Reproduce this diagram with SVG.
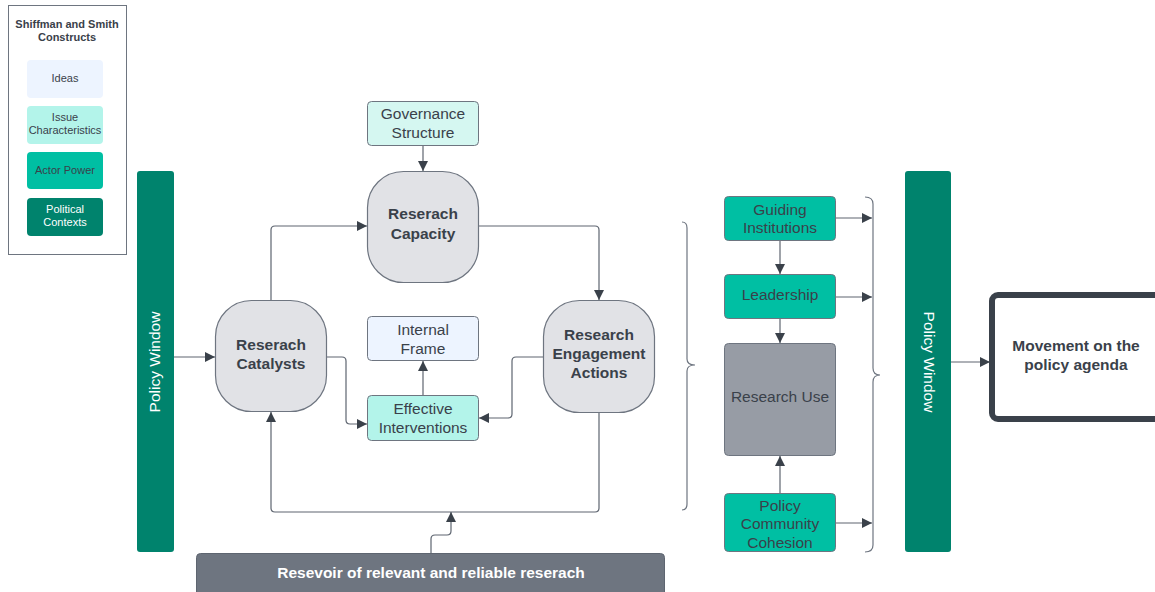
<svg xmlns="http://www.w3.org/2000/svg" width="1155" height="592" viewBox="0 0 1155 592">
<defs>
<marker id="ah" viewBox="0 0 10 10" refX="10" refY="5" markerWidth="10" markerHeight="10" markerUnits="userSpaceOnUse" orient="auto">
<path d="M0,0 L10,5 L0,10 z" fill="#3a414a"/>
</marker>
<style>
.t{font-family:"Liberation Sans",Arial,sans-serif;font-size:15.5px;fill:#3a414a;text-anchor:middle}
.b{font-weight:bold}
.s{font-size:11px}
.w{fill:#ffffff}
.ln{fill:none;stroke:#5e6570;stroke-width:1.2}
.gray{fill:#e1e2e6;stroke:#6e7580;stroke-width:1.2}
.bx{stroke:#6e7580;stroke-width:1}
.ideas{fill:#edf4ff}
.issue{fill:#b3f4ea}
.gov{fill:#d5f7f1}
.actor{fill:#00bfa3}
.pol{fill:#00836d}
.br{fill:none;stroke:#6e7580;stroke-width:1.2}
</style>
</defs>
<rect width="1155" height="592" fill="#ffffff"/>

<g id="legend">
<rect x="8.5" y="5.5" width="118" height="249" fill="#ffffff" stroke="#6e7580" stroke-width="1"/>
<text class="t b s" x="67" y="28">Shiffman and Smith</text>
<text class="t b s" x="67" y="41">Constructs</text>
<rect class="ideas" x="27" y="60" width="76" height="38" rx="4"/>
<text class="t s" x="65" y="82">Ideas</text>
<rect class="issue" x="27" y="106" width="76" height="38" rx="4"/>
<text class="t s" x="65" y="121">Issue</text>
<text class="t s" x="65" y="134">Characteristics</text>
<rect class="actor" x="27" y="152" width="76" height="37" rx="4"/>
<text class="t s" x="65" y="174">Actor Power</text>
<rect class="pol" x="27" y="198" width="76" height="38" rx="4"/>
<text class="t s w" x="65" y="213">Political</text>
<text class="t s w" x="65" y="226">Contexts</text>
</g>

<g id="connectors">
<path class="ln" d="M423,146 V171" marker-end="url(#ah)"/>
<path class="ln" d="M271,300 V230 Q271,226 275,226 H367" marker-end="url(#ah)"/>
<path class="ln" d="M479,226 H595 Q599,226 599,230 V300" marker-end="url(#ah)"/>
<path class="ln" d="M174,357 H215" marker-end="url(#ah)"/>
<path class="ln" d="M327,357 H342 Q346,357 346,361 V420 Q346,424 350,424 H367" marker-end="url(#ah)"/>
<path class="ln" d="M543,357 H516 Q512,357 512,361 V414 Q512,418 508,418 H479" marker-end="url(#ah)"/>
<path class="ln" d="M423,395 V361" marker-end="url(#ah)"/>
<path class="ln" d="M599,413 V508 Q599,512 595,512 H275 Q271,512 271,508 V412" marker-end="url(#ah)"/>
<path class="ln" d="M431,553 V539 Q431,535 435,535 H447 Q451,535 451,531 V512" marker-end="url(#ah)"/>
<path class="ln" d="M780,241 V274" marker-end="url(#ah)"/>
<path class="ln" d="M780,319 V343" marker-end="url(#ah)"/>
<path class="ln" d="M780,493 V456" marker-end="url(#ah)"/>
<path class="ln" d="M836,218 H872" marker-end="url(#ah)"/>
<path class="ln" d="M836,297 H872" marker-end="url(#ah)"/>
<path class="ln" d="M836,523 H872" marker-end="url(#ah)"/>
<path class="ln" d="M951,362 H990" marker-end="url(#ah)"/>
<path class="br" d="M682,222 Q687,222 687,228 V359 Q687,365 695,365 Q687,365 687,371 V504 Q687,510 682,510"/>
<path class="br" d="M865,197 Q873,197 873,204 V368 Q873,375 880,375 Q873,375 873,382 V545 Q873,552 865,552"/>
</g>

<g id="policy-window-left">
<rect class="pol" x="137" y="171" width="37" height="381" rx="3"/>
<text class="t w" transform="translate(160,362) rotate(-90)">Policy Window</text>
</g>

<g id="governance">
<rect class="gov bx" x="367.5" y="101.5" width="111" height="44" rx="4"/>
<text class="t" x="423" y="119">Governance</text>
<text class="t" x="423" y="138">Structure</text>
</g>

<g id="capacity">
<rect class="gray" x="367.5" y="171.5" width="111" height="111" rx="36"/>
<text class="t b" x="423" y="219">Reserach</text>
<text class="t b" x="423" y="239">Capacity</text>
</g>

<g id="catalysts">
<rect class="gray" x="215.5" y="300.5" width="111" height="111" rx="36"/>
<text class="t b" x="271" y="350">Reserach</text>
<text class="t b" x="271" y="369">Catalysts</text>
</g>

<g id="engagement">
<rect class="gray" x="543.5" y="300.5" width="111" height="112" rx="36"/>
<text class="t b" x="599" y="340">Research</text>
<text class="t b" x="599" y="359">Engagement</text>
<text class="t b" x="599" y="378">Actions</text>
</g>

<g id="internal-frame">
<rect class="ideas bx" x="367.5" y="316.5" width="111" height="44" rx="4"/>
<text class="t" x="423" y="335">Internal</text>
<text class="t" x="423" y="354">Frame</text>
</g>

<g id="effective">
<rect class="issue bx" x="367.5" y="395.5" width="111" height="45" rx="4"/>
<text class="t" x="423" y="414">Effective</text>
<text class="t" x="423" y="433">Interventions</text>
</g>

<g id="resevoir">
<rect x="196.5" y="553.5" width="468" height="45" rx="4" fill="#6e7580" stroke="#5e6570"/>
<text class="t b w" x="431" y="578">Resevoir of relevant and reliable reserach</text>
</g>

<g id="guiding">
<rect class="actor bx" x="724.5" y="196.5" width="111" height="44" rx="4"/>
<text class="t" x="780" y="215">Guiding</text>
<text class="t" x="780" y="233">Institutions</text>
</g>

<g id="leadership">
<rect class="actor bx" x="724.5" y="274.5" width="111" height="44" rx="4"/>
<text class="t" x="780" y="300">Leadership</text>
</g>

<g id="research-use">
<rect x="724.5" y="343.5" width="111" height="112" rx="4" fill="#979ca5" stroke="#6e7580"/>
<text class="t" x="780" y="402">Research Use</text>
</g>

<g id="cohesion">
<rect class="actor bx" x="724.5" y="493.5" width="111" height="58" rx="4"/>
<text class="t" x="780" y="511">Policy</text>
<text class="t" x="780" y="529">Community</text>
<text class="t" x="780" y="548">Cohesion</text>
</g>

<g id="policy-window-right">
<rect class="pol" x="905" y="171" width="46" height="381" rx="3"/>
<text class="t w" transform="translate(924,362) rotate(90)">Policy Window</text>
</g>

<g id="movement">
<rect x="992" y="295" width="175" height="124" rx="6" fill="#ffffff" stroke="#3a414a" stroke-width="6"/>
<text class="t b" x="1076" y="351">Movement on the</text>
<text class="t b" x="1076" y="370">policy agenda</text>
</g>
</svg>
